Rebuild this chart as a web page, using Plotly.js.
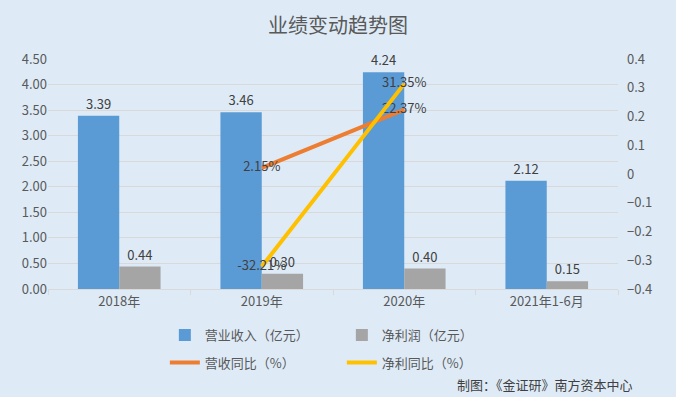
<!DOCTYPE html>
<html><head><meta charset="utf-8">
<script src="https://cdn.plot.ly/plotly-3.0.1.min.js"></script>
<style>body{margin:0;padding:0;}#chart{width:676px;height:397px;}</style>
</head><body><div id="chart"></div>
<script>
const categories = ['2018年','2019年','2020年','2021年1-6月'];
const revenue = [3.39, 3.46, 4.24, 2.12];
const profit = [0.44, 0.30, 0.40, 0.15];
const revenueYoY = [null, 0.0215, 0.2237, null];
const profitYoY = [null, -0.3221, 0.3135, null];
const seriesNames = ['营业收入（亿元）','净利润（亿元）','营收同比（%）','净利同比（%）'];
const sourceText = '制图：《金证研》南方资本中心';

const font = '"Noto Sans CJK SC", "Microsoft YaHei", sans-serif';
const pct = v => v === null ? '' : (v*100).toFixed(2) + '%';

const traces = [
  {type:'bar', name:seriesNames[0], x:categories, y:revenue, marker:{color:'#5b9bd5'},
   text:revenue.map(v=>v.toFixed(2)), textposition:'outside', cliponaxis:false,
   textfont:{size:13,color:'#404040',family:font}, legend:'legend'},
  {type:'bar', name:seriesNames[1], x:categories, y:profit, marker:{color:'#a5a5a5'},
   text:profit.map(v=>v.toFixed(2)), textposition:'outside', cliponaxis:false,
   textfont:{size:13,color:'#404040',family:font}, legend:'legend'},
  {type:'scatter', mode:'lines+text', name:seriesNames[2], x:categories, y:revenueYoY, yaxis:'y2',
   line:{color:'#ed7d31', width:4}, text:revenueYoY.map(pct), textposition:'middle center',
   textfont:{size:13,color:'#404040',family:font}, cliponaxis:false, legend:'legend2'},
  {type:'scatter', mode:'lines+text', name:seriesNames[3], x:categories, y:profitYoY, yaxis:'y2',
   line:{color:'#ffc000', width:4}, text:profitYoY.map(pct), textposition:'middle center',
   textfont:{size:13,color:'#404040',family:font}, cliponaxis:false, legend:'legend2'}
];

const legendBase = {orientation:'h', xref:'paper', yref:'paper', x:0.205, xanchor:'left', yanchor:'middle',
  entrywidth:132, entrywidthmode:'pixels', bgcolor:'rgba(0,0,0,0)', font:{size:13,color:'#595959',family:font},
  itemclick:false, traceorder:'normal'};

const layout = {
  width:676, height:397,
  paper_bgcolor:'#deebf7', plot_bgcolor:'#deebf7',
  margin:{l:48, r:58, t:59, b:108},
  font:{family:font, color:'#595959'},
  title:{text:'业绩变动趋势图', x:0.5, xref:'container', y:0.935, yref:'container', yanchor:'middle',
    font:{size:20, color:'#595959', family:font}},
  barmode:'group', bargap:0.42, bargroupgap:0,
  xaxis:{type:'category', tickson:'boundaries', ticks:'outside', ticklen:5, tickcolor:'#d9d9d9',
    showgrid:false, showline:true, linecolor:'#d9d9d9', linewidth:1,
    tickfont:{size:13,color:'#595959',family:font}},
  yaxis:{range:[0,4.5], dtick:0.5, tickformat:'.2f', showgrid:true, gridcolor:'#d9d9d9', zeroline:false,
    showline:false, ticks:'', tickfont:{size:13,color:'#595959',family:font}, fixedrange:true},
  yaxis2:{overlaying:'y', side:'right', range:[-0.4,0.4], dtick:0.1, showgrid:false, zeroline:false,
    showline:false, ticks:'', tickfont:{size:13,color:'#595959',family:font}, ticklabelstandoff:8},
  showlegend:true,
  legend:Object.assign({}, legendBase, {y:-0.2}),
  legend2:Object.assign({}, legendBase, {y:-0.32}),
  annotations:[{text:sourceText, xref:'paper', yref:'paper', x:1.03, y:-0.415, xanchor:'right', yanchor:'middle',
    showarrow:false, font:{size:13,color:'#404040',family:font}}]
};
Plotly.newPlot('chart', traces, layout, {displayModeBar:false, staticPlot:true});
</script></body></html>
